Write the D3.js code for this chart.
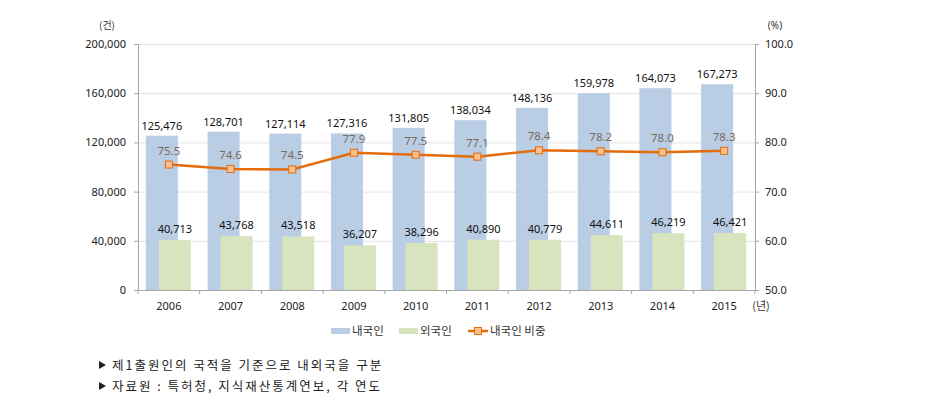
<!DOCTYPE html>
<html><head><meta charset="utf-8">
<script src="https://cdn.jsdelivr.net/npm/d3@7"></script>
<style>
body{margin:0;background:#fff;}
svg{display:block;font-family:"Noto Sans CJK KR","Noto Sans",sans-serif;}
</style></head>
<body>
<svg id="chart" width="927" height="417"></svg>
<script>
const years = ["2006","2007","2008","2009","2010","2011","2012","2013","2014","2015"];
const domestic = [125476,128701,127114,127316,131805,138034,148136,159978,164073,167273];
const foreign = [40713,43768,43518,36207,38296,40890,40779,44611,46219,46421];
const share = [75.5,74.6,74.5,77.9,77.5,77.1,78.4,78.2,78.0,78.3];
const leftTicks = [0,40000,80000,120000,160000,200000];
const rightTicks = [50,60,70,80,90,100];
const seriesNames = ["내국인","외국인","내국인 비중"];
const notes = ["제1출원인의 국적을 기준으로 내외국을 구분","자료원 : 특허청, 지식재산통계연보, 각 연도"];

const svg = d3.select("#chart");
const L=138, R=755, T=44, B=290;
const x = d3.scaleBand().domain(years).range([L,R]);
const yL = d3.scaleLinear().domain([0,200000]).range([B,T]);
const yR = d3.scaleLinear().domain([50,100]).range([B,T]);
const fmt = d3.format(",");
const numFont = "Noto Sans, sans-serif";

// gridlines
svg.append("g").selectAll("line").data(leftTicks.slice(1)).join("line")
  .attr("x1",L).attr("x2",R).attr("y1",d=>yL(d)+0.5).attr("y2",d=>yL(d)+0.5)
  .attr("stroke","#e4e4e4").attr("stroke-width",1);

const barW = 32;
// domestic bars
svg.append("g").selectAll("rect").data(domestic).join("rect")
  .attr("x",(d,i)=>x(years[i])+x.bandwidth()/2-7-barW/2)
  .attr("width",barW).attr("y",d=>yL(d)).attr("height",d=>B-yL(d))
  .attr("fill","#b9cde5");
// foreign bars
svg.append("g").selectAll("rect").data(foreign).join("rect")
  .attr("x",(d,i)=>x(years[i])+x.bandwidth()/2+6-barW/2)
  .attr("width",barW).attr("y",d=>yL(d)).attr("height",d=>B-yL(d))
  .attr("fill","#d7e4bd");

// axes
const axL = svg.append("g").attr("transform",`translate(${L},0)`)
  .call(d3.axisLeft(yL).tickValues(leftTicks).tickFormat(fmt).tickSize(4).tickPadding(8));
const axR = svg.append("g").attr("transform",`translate(${R},0)`)
  .call(d3.axisRight(yR).tickValues(rightTicks).tickFormat(d3.format(".1f")).tickSize(4).tickPadding(6));
const axB = svg.append("g").attr("transform",`translate(0,${B})`)
  .call(d3.axisBottom(x).tickSize(0).tickPadding(12));
[axL,axR,axB].forEach(a=>{
  a.selectAll("path").attr("stroke","#a6a6a6");
  a.selectAll("line").attr("stroke","#a6a6a6");
  a.selectAll("text").attr("fill","#222").attr("font-size","11px").attr("font-family",numFont);
});
// bottom category tick marks (between categories)
svg.append("g").selectAll("line").data(years.concat(["end"])).join("line")
  .attr("x1",(d,i)=>L+i*x.bandwidth()).attr("x2",(d,i)=>L+i*x.bandwidth())
  .attr("y1",B).attr("y2",B+4).attr("stroke","#a6a6a6");

// bar labels
svg.append("g").selectAll("text").data(domestic).join("text")
  .attr("x",(d,i)=>x(years[i])+x.bandwidth()/2-7).attr("y",d=>yL(d)-6)
  .attr("text-anchor","middle").attr("font-size","11px").attr("font-family",numFont).attr("fill","#111")
  .text(d=>fmt(d));
svg.append("g").selectAll("text").data(foreign).join("text")
  .attr("x",(d,i)=>x(years[i])+x.bandwidth()/2+6).attr("y",d=>yL(d)-7)
  .attr("text-anchor","middle").attr("font-size","11px").attr("font-family",numFont).attr("fill","#111")
  .text(d=>fmt(d));

// line
const line = d3.line().x((d,i)=>x(years[i])+x.bandwidth()/2).y(d=>yR(d));
svg.append("path").datum(share).attr("d",line).attr("fill","none")
  .attr("stroke","#e46c0a").attr("stroke-width",2.5);
svg.append("g").selectAll("rect").data(share).join("rect")
  .attr("x",(d,i)=>x(years[i])+x.bandwidth()/2-3.5).attr("y",d=>yR(d)-3.5)
  .attr("width",7).attr("height",7).attr("fill","#fac090").attr("stroke","#e46c0a").attr("stroke-width",1);
svg.append("g").selectAll("text").data(share).join("text")
  .attr("x",(d,i)=>x(years[i])+x.bandwidth()/2).attr("y",d=>yR(d)-10)
  .attr("text-anchor","middle").attr("font-size","11.5px").attr("font-family",numFont).attr("fill","#7a6a5e")
  .text(d=>d.toFixed(1));

// units
svg.append("text").attr("x",107).attr("y",29).attr("text-anchor","middle")
  .attr("font-size","10px").attr("fill","#333").text("(건)");
svg.append("text").attr("x",775).attr("y",29).attr("text-anchor","middle")
  .attr("font-size","10px").attr("fill","#333").attr("font-family",numFont).text("(%)");
svg.append("text").attr("x",761).attr("y",310).attr("text-anchor","middle")
  .attr("font-size","11px").attr("fill","#333").text("(년)");

// legend
const lg = svg.append("g").attr("font-size","11.5px").attr("fill","#333");
lg.append("rect").attr("x",331).attr("y",328).attr("width",19).attr("height",6).attr("fill","#b9cde5");
lg.append("text").attr("x",352).attr("y",335).text(seriesNames[0]);
lg.append("rect").attr("x",399).attr("y",328).attr("width",19).attr("height",6).attr("fill","#d7e4bd");
lg.append("text").attr("x",420).attr("y",335).text(seriesNames[1]);
lg.append("line").attr("x1",468).attr("x2",488).attr("y1",331).attr("y2",331).attr("stroke","#e46c0a").attr("stroke-width",2.5);
lg.append("rect").attr("x",474.5).attr("y",327.5).attr("width",7).attr("height",7).attr("fill","#fac090").attr("stroke","#e46c0a");
lg.append("text").attr("x",490).attr("y",335).text(seriesNames[2]);

// notes
const ng = svg.append("g").attr("font-size","12.5px").attr("fill","#222").attr("letter-spacing","2px");
notes.forEach((n,i)=>{
  const yy = 370 + i*21;
  ng.append("path").attr("d",`M${99},${yy-9} L${106},${yy-5} L${99},${yy-1} Z`).attr("fill","#222");
  ng.append("text").attr("x",112).attr("y",yy).text(n);
});
</script>
</body></html>
